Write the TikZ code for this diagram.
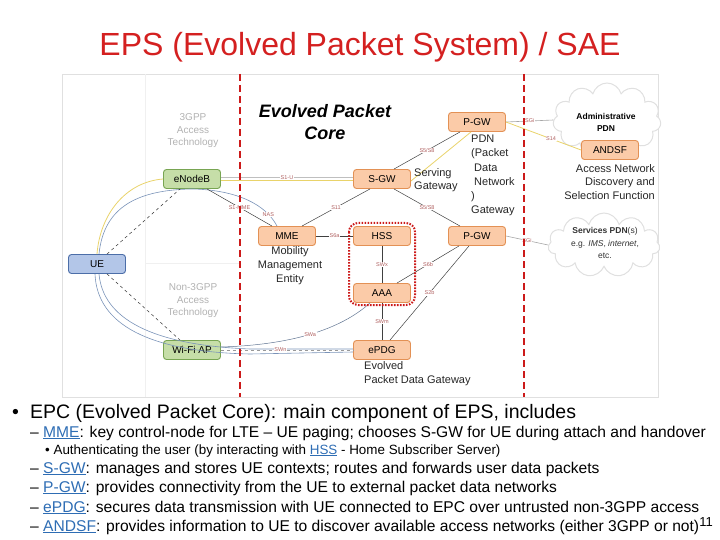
\documentclass[tikz,border=0pt]{standalone}
\usepackage{fontspec}
\setmainfont{Liberation Sans}
\usepackage{xcolor}
\usepackage{tikz}
\usetikzlibrary{positioning,shapes.symbols}
\definecolor{titlered}{HTML}{D42020}
\definecolor{epcfill}{HTML}{FBCBA8}
\definecolor{epcline}{HTML}{E39155}
\definecolor{accfill}{HTML}{C6DEA8}
\definecolor{accline}{HTML}{78A552}
\definecolor{uefill}{HTML}{B3C6E8}
\definecolor{ueline}{HTML}{4C6EA8}
\definecolor{cutred}{HTML}{CC1A1A}
\definecolor{ifbrown}{HTML}{B06060}
\definecolor{sigyellow}{HTML}{E9D36A}
\definecolor{sigblue}{HTML}{7A93B8}
\definecolor{linkblue}{HTML}{2E6DB4}
\newcommand{\lnk}[1]{\textcolor{linkblue}{\underline{#1}}}
\newcommand{\fsz}[2]{\fontsize{#1}{#2}\selectfont}

\begin{document}
\begin{tikzpicture}[x=1pt, y=-1pt,
		box/.style={draw, rounded corners=3pt, line width=0.9pt, minimum width=57pt, minimum height=19pt, inner sep=0pt, font=\fsz{10}{12}},
		epcbox/.style={box, draw=epcline, fill=epcfill},
		accbox/.style={box, draw=accline, fill=accfill},
		iface/.style={font=\fsz{5.5}{6}, text=ifbrown, fill=white, inner sep=0.6pt},
		link/.style={draw=black!75, line width=0.5pt},
		note/.style={font=\fsz{11}{13.5}, text=black!85, inner sep=0pt},
		zone/.style={font=\fsz{10}{12.5}, text=black!30, align=center},
		cloudbox/.style={cloud, cloud puffs=11, aspect=1.6, fill=white, draw=black!12, line width=1pt},
		item/.style={anchor=base west, inner sep=0pt, font=\fsz{15.6}{16}}]
	\useasboundingbox (0,0) rectangle (720,540);
	\node[font=\fsz{32}{32}, text=titlered] (title) at (360,47) {EPS (Evolved Packet System) / SAE};
	% figure frame and access zones
	\draw[black!12, line width=0.8pt] (62,74) rectangle (658,397);
	\draw[black!6] (145,74) -- (145,397) (145,263) -- (240,263);
	\node[zone] (acc3gpp) at (193,131) {3GPP\\Access\\Technology};
	\node[zone] (accnon) at (193,301) {Non-3GPP\\Access\\Technology};
	\node[font=\fsz{18}{22}\bfseries\itshape, align=center] (epctitle) at (325,122) {Evolved Packet\\Core};
	% external networks
	\node[cloudbox, minimum width=108pt, minimum height=74pt] (admpdn) at (607,120) {};
	\node[cloudbox, minimum width=112pt, minimum height=64pt] (srvpdn) at (604,245) {};
	\node[font=\fsz{8.5}{12}\bfseries, align=center] (admtxt) at (606,122) {Administrative\\PDN};
	\node[font=\fsz{8.5}{12.5}, align=center, text=black!80] (srvtxt) at (605,243) {\textbf{Services PDN}(s)\\e.g. \textit{IMS}, \textit{internet},\\etc.};
	% elements
	\node[box, draw=ueline, fill=uefill] (ue) at (97,264) {UE};
	\node[accbox] (enb) at (192,179) {eNodeB};
	\node[accbox] (wifi) at (192,350) {Wi-Fi AP};
	\node[epcbox] (mme) at (287,236) {MME};
	\node[epcbox] (sgw) at (382,179) {S-GW};
	\node[epcbox] (pgwa) at (477,122) {P-GW};
	\node[epcbox] (hss) at (382,236) {HSS};
	\node[epcbox] (pgwb) at (477,236) {P-GW};
	\node[epcbox] (aaa) at (382,293) {AAA};
	\node[epcbox] (epdg) at (382,350) {ePDG};
	\node[epcbox] (andsf) at (610,150) {ANDSF};
	% user plane / signalling paths
	\draw[sigyellow, line width=0.8pt] (ue.north) .. controls (100,215) and (125,182) .. (enb.west);
	\draw[sigyellow, line width=0.8pt] ([yshift=-1.5pt]enb.east) -- ([yshift=-1.5pt]sgw.west);
	\draw[sigyellow, line width=0.8pt] ([yshift=-2pt]sgw.east) -- ([xshift=-6pt]pgwa.south);
	\draw[black!25, line width=0.8pt] ([yshift=1.5pt]enb.east) -- node[iface] {S1-U} ([yshift=1.5pt]sgw.west);
	\draw[sigblue, line width=0.6pt] ([xshift=2pt]ue.north) .. controls (104,205) and (140,190) .. (enb.south)
		.. controls (238,190) and (266,205) .. node[iface, pos=0.8] {NAS} ([xshift=-10pt]mme.north);
	\draw[black!80, dashed, line width=0.5pt] ([xshift=10pt]ue.north) -- ([xshift=-12pt]enb.south);
	\draw[link] ([xshift=15pt]enb.south) -- node[iface] {S1-MME} ([xshift=-15pt]mme.north);
	\draw[link] ([xshift=15pt]mme.north) -- node[iface] {S11} ([xshift=-12pt]sgw.south);
	\draw[link] (mme) -- node[iface] {S6a} (hss);
	\draw[link] ([xshift=12pt]sgw.north) -- node[iface] {S5/S8} ([xshift=-17pt]pgwa.south);
	\draw[link] ([xshift=12pt]sgw.south) -- node[iface] {S5/S8} ([xshift=-17pt]pgwb.north);
	\draw[link] (hss) -- node[iface] {SWx} (aaa);
	\draw[link] ([xshift=15pt]aaa.north) -- node[iface] {S6b} ([xshift=-18pt]pgwb.south);
	\draw[link] ([xshift=8pt]epdg.north) -- node[iface] {S2b} ([xshift=-8pt]pgwb.south);
	\draw[link] (aaa) -- node[iface] {SWm} (epdg);
	\draw[black!35, line width=0.6pt] (pgwa.east) -- node[iface] {SGi} (admpdn.west);
	\draw[sigyellow, line width=0.8pt] (pgwa.east) -- node[iface, pos=0.6] {S14} (andsf.west);
	\draw[black!35, line width=0.6pt] (pgwb.east) -- node[iface] {SGi} (srvpdn.west);
	% non-3GPP access
	\draw[black!80, dashed, line width=0.5pt] ([xshift=10pt]ue.south) -- ([xshift=-12pt]wifi.north);
	\draw[sigblue, line width=0.6pt] ([xshift=-2pt]ue.south) .. controls (97,325) and (150,352) .. (250,354) -- ([yshift=-2pt]epdg.west);
	\draw[sigblue, line width=0.6pt] ([xshift=2pt]ue.south) .. controls (103,318) and (150,345) .. (250,349) -- ([yshift=1pt]epdg.west);
	\draw[black!40, dashed, line width=0.6pt] (wifi.east) -- node[iface, pos=0.45] {SWn} (epdg.west);
	\draw[sigblue!80!black, line width=0.5pt] ([yshift=3pt]wifi.east) .. controls (290,345) and (340,330) .. node[iface, pos=0.5] {SWa} ([xshift=-12pt]aaa.south);
	% EPC boundary
	\draw[cutred, line width=2.6pt, dash pattern=on 7pt off 4pt] (240,74) -- (240,397) (524,74) -- (524,397);
	\draw[cutred, line width=2pt, dash pattern=on 1.6pt off 1.4pt, rounded corners=9pt] (349,223) rectangle (415,305);
	% annotations
	\node[note, anchor=north west, align=left] (sgwtxt) at (414,168) {Serving\\Gateway};
	\node[note, anchor=north west, align=left, font=\fsz{11}{14.2}] (pgwtxt) at (471,135) {PDN\\(Packet\\\hspace*{3pt}Data\\\hspace*{3pt}Network\\)\\Gateway};
	\node[note, anchor=north east, align=right] (andsftxt) at (655,164) {Access Network\\Discovery and\\Selection Function};
	\node[note, anchor=north, align=center, font=\fsz{11}{14}] (mmetxt) at (290,246) {Mobility\\Management\\Entity};
	\node[note, anchor=north west, align=left, font=\fsz{11}{14}] (epdgtxt) at (364,361) {Evolved\\Packet Data Gateway};
	% bullet text
	\node[item, font=\fsz{19.5}{20}] (epc) at (12,418) {\makebox[18pt][l]{\textbullet}EPC (Evolved Packet Core): main component of EPS, includes};
	\node[item] (mmeitem) at (30,437) {-- \lnk{MME}: key control-node for LTE -- UE paging; chooses S-GW for UE during attach and handover};
	\node[item, font=\fsz{13.4}{14}] (hssitem) at (45,454) {\textbullet\ Authenticating the user (by interacting with \lnk{HSS} - Home Subscriber Server)};
	\node[item] (sgwitem) at (30,473) {-- \lnk{S-GW}: manages and stores UE contexts; routes and forwards user data packets};
	\node[item] (pgwitem) at (30,492) {-- \lnk{P-GW}: provides connectivity from the UE to external packet data networks};
	\node[item] (epdgitem) at (30,512) {-- \lnk{ePDG}: secures data transmission with UE connected to EPC over untrusted non-3GPP access};
	\node[item] (andsfitem) at (30,531) {-- \lnk{ANDSF}: provides information to UE to discover available access networks (either 3GPP or not)};
	\node[font=\fsz{13}{13}, inner sep=0pt] (pageno) at (706,522) {11};
\end{tikzpicture}
\end{document}
